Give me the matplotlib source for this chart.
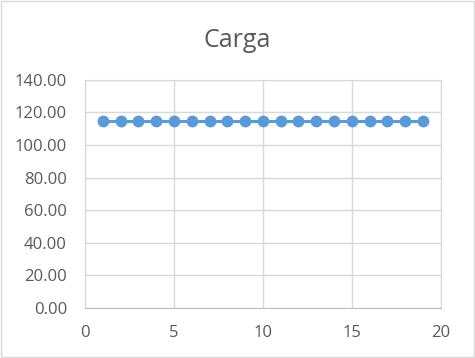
import numpy as np
import matplotlib.pyplot as plt
from matplotlib.patches import Rectangle

# dados
x = list(range(1, 20))
carga = [115.0] * 19
yticks = [0, 20, 40, 60, 80, 100, 120, 140]
xticks = [0, 5, 10, 15, 20]

fig = plt.figure(figsize=(4.75, 3.58), dpi=100)
ax = fig.add_axes([0.179, 0.140, 0.749, 0.637])

ax.plot(x, carga, color="#5b9bd5", linewidth=2.2, marker="o", markersize=7.5, zorder=3, clip_on=False)

ax.set_xlim(0, 20)
ax.set_ylim(0, 140)
ax.set_xticks(xticks)
ax.set_yticks(yticks)
ax.set_yticklabels([f"{v:.2f}" for v in yticks])
ax.grid(True, color="#d9d9d9", linewidth=1)
ax.set_axisbelow(True)
for s in ax.spines.values():
    s.set_color("#d9d9d9")
ax.spines["bottom"].set_color("#bfbfbf")
ax.tick_params(length=0, labelsize=12, colors="#595959")
ax.tick_params(axis="y", pad=13)
ax.tick_params(axis="x", pad=12)
for lab in ax.get_xticklabels() + ax.get_yticklabels():
    lab.set_family("Open Sans")

fig.text(0.5, 0.888, "Carga", ha="center", va="center", fontsize=18, color="#595959", family="Open Sans")
fig.patches.append(Rectangle((0.002, 0.003), 0.996, 0.994, transform=fig.transFigure,
                             fill=False, edgecolor="#d9d9d9", linewidth=1))

plt.savefig("out.png", dpi=100)
